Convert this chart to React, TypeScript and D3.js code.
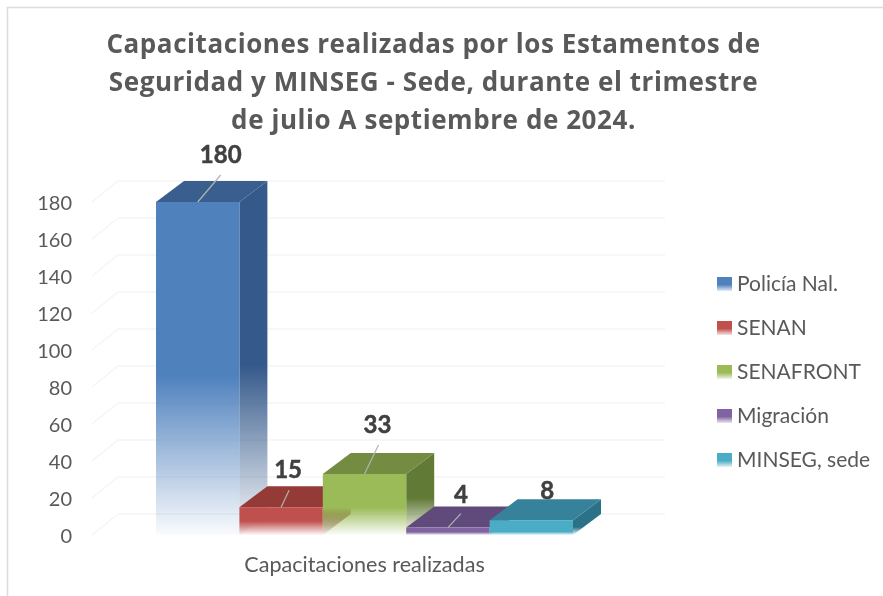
import React from "react";
import * as d3 from "d3";

const titleLines = [
  "Capacitaciones realizadas por los Estamentos de",
  "Seguridad y MINSEG - Sede, durante el trimestre",
  "de julio A septiembre de 2024.",
];
const categoryLabel = "Capacitaciones realizadas";
const seriesNames = ["Policía Nal.", "SENAN", "SENAFRONT", "Migración", "MINSEG, sede"];
const seriesValues = [180, 15, 33, 4, 8];
const yTicks = [0, 20, 40, 60, 80, 100, 120, 140, 160, 180];

// styling and layout, kept apart from the data
const frontColors = ["#4f81bd", "#c0504d", "#9bbb59", "#8064a2", "#4bacc6"];
const topColors = ["#3a5f8e", "#943a37", "#748c42", "#604a7b", "#35829a"];
const sideColors = ["#34598a", "#7d302e", "#617a36", "#503c6a", "#2b7288"];
const fadeStart = [0.52, 0.5, 0.55, 0.6, 0.78];
const labelDx = [23, 7, 13, 13, 16];
const labelDy = [-39, -29, -41, -25, -21];
const leaderEnd: ([number, number] | null)[] = [[23, -27], [8, -17], [14, -29], [13, -14], null];

const W = 883, H = 596;
const dx = 28, dy = -21;
const y = d3.scaleLinear().domain([0, 180]).range([535, 202]);
const x = d3.scaleBand<string>().domain(seriesNames).range([156, 573]).padding(0);
const gridX0 = 92, gridX1 = 665;
const legendY = d3.scalePoint<string>().domain(seriesNames).range([284, 460]);
const poly = (p: number[][]) => p.map((q) => q.join(",")).join(" ");
const sans = "Lato, 'Open Sans', sans-serif";

export default function App() {
  const bw = x.bandwidth();
  return (
    <svg width={W} height={H} style={{ position: "absolute", left: 0, top: 0, background: "#fff" }}>
      <defs>
        {seriesNames.map((_, i) => (
          <React.Fragment key={i}>
            {[["f", frontColors[i]], ["s", sideColors[i]]].map(([k, c]) => (
              <linearGradient key={k} id={`${k}${i}`} x1="0" y1="0" x2="0" y2="1">
                <stop offset="0" stopColor={c} />
                <stop offset={fadeStart[i]} stopColor={c} />
                <stop offset="1" stopColor={c} stopOpacity={0.03} />
              </linearGradient>
            ))}
            <linearGradient id={`l${i}`} x1="0" y1="0" x2="0" y2="1">
              <stop offset="0" stopColor={frontColors[i]} />
              <stop offset="0.55" stopColor={frontColors[i]} />
              <stop offset="1" stopColor={frontColors[i]} stopOpacity={0.15} />
            </linearGradient>
          </React.Fragment>
        ))}
      </defs>

      <g style={{ filter: "blur(0.35px)" }}>
        <path d={`M7.5 7V596M7 7.5H${W}`} stroke="#dcdcdc" strokeWidth={1.5} fill="none" />

        {titleLines.map((t, i) => (
          <text key={i} x={433.5} y={53 + i * 38} textAnchor="middle" fontFamily="'Open Sans', sans-serif"
            fontWeight={700} fontSize={26} letterSpacing={0.57} fill="#595959">{t}</text>
        ))}

        {yTicks.map((t) => (
          <g key={t}>
            <polyline points={poly([[gridX0, y(t)], [gridX0 + 26, y(t) + dy], [gridX1, y(t) + dy]])}
              fill="none" stroke="#f5f5f5" strokeWidth={1.5} />
            <text x={72} y={y(t) + 8} textAnchor="end" fontFamily={sans} fontSize={20} fill="#595959">{t}</text>
          </g>
        ))}

        {seriesNames.map((n, i) => {
          const x0 = x(n)!, x1 = x0 + bw, yt = y(seriesValues[i]), yb = y(0);
          return (
            <g key={n}>
              <polygon points={poly([[x1, yt], [x1 + dx, yt + dy], [x1 + dx, yb + dy], [x1, yb]])} fill={`url(#s${i})`} />
              <polygon points={poly([[x0, yt], [x0 + dx, yt + dy], [x1 + dx, yt + dy], [x1, yt]])} fill={topColors[i]} />
              <rect x={x0} y={yt} width={bw} height={yb - yt} fill={`url(#f${i})`} />
            </g>
          );
        })}

        {seriesNames.map((n, i) => {
          const cx = x(n)! + bw / 2, yt = y(seriesValues[i]);
          const e = leaderEnd[i];
          return (
            <g key={n}>
              {e && <line x1={cx} y1={yt} x2={cx + e[0]} y2={yt + e[1]} stroke="#b3b3b3" strokeWidth={1.2} />}
              <text x={cx + labelDx[i]} y={yt + labelDy[i]} textAnchor="middle" fontFamily={sans} fontWeight={700} fontSize={24}
                fill="#404040" stroke="#404040" strokeWidth={0.5}>
                {seriesValues[i]}
              </text>
            </g>
          );
        })}

        <text x={364.5} y={571.5} textAnchor="middle" fontFamily={sans} fontSize={21.6} fill="#595959">{categoryLabel}</text>

        {seriesNames.map((n, i) => (
          <g key={n}>
            <rect x={717} y={legendY(n)! - 7} width={15} height={14} fill={`url(#l${i})`} />
            <text x={737} y={legendY(n)! + 7} fontFamily={sans} fontSize={21} fill="#595959">{n}</text>
          </g>
        ))}
      </g>
    </svg>
  );
}
